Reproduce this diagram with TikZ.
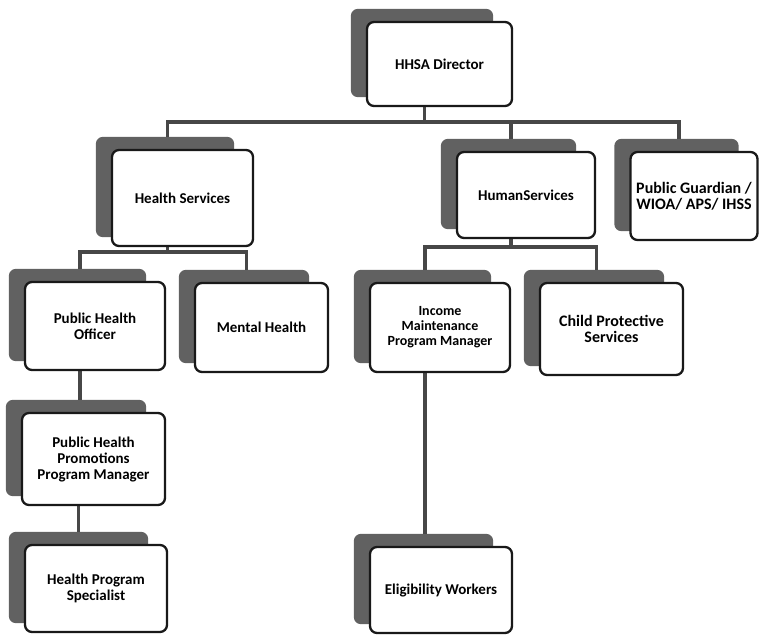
\documentclass[tikz,border=0pt]{standalone}
\usepackage{fontspec}
\setmainfont{Carlito}
\usetikzlibrary{calc,backgrounds}
% grey card lying behind each box, offset up and to the left
\newcommand\cardshadow[1]{%
  \fill[backcard] ($(#1.north west)+(-15,-12)$) rectangle ($(#1.south east)+(-20,-10)$);}
\begin{document}
\begin{tikzpicture}[x=1pt,y=-1pt,
  card/.style={draw=black!90, line width=2.3pt, rounded corners=7pt, fill=white,
    align=center, inner sep=2pt, font=\bfseries\fontsize{15}{16}\selectfont},
  bigtext/.style={font=\bfseries\fontsize{16}{16.5}\selectfont},
  smalltext/.style={font=\bfseries\fontsize{14}{15}\selectfont},
  conn/.style={draw=black!72, line width=3.4pt},
  backcard/.style={fill=black!62, rounded corners=7pt}]
\useasboundingbox (0,0) rectangle (759,635);

% boxes
\node[card, minimum width=145pt, minimum height=84pt] (dir) at (439.5,64) {HHSA Director};
\node[card, minimum width=141pt, minimum height=96pt] (hs)  at (182.5,198) {Health Services};
\node[card, minimum width=138pt, minimum height=86pt] (hum) at (526,195) {HumanServices};
\node[card, bigtext, minimum width=127pt, minimum height=88pt] (pg)  at (694,196) {Public Guardian /\\WIOA/ APS/ IHSS};
\node[card, minimum width=140pt, minimum height=88pt] (pho) at (95,326) {Public Health\\Officer};
\node[card, minimum width=133pt, minimum height=89pt] (mh)  at (261.5,327.5) {Mental Health};
\node[card, smalltext, minimum width=140pt, minimum height=89pt] (ipm) at (440,327.5) {Income\\Maintenance\\Program Manager};
\node[card, bigtext, minimum width=143pt, minimum height=92pt] (cps) at (611.5,329) {Child Protective\\Services};
\node[card, minimum width=143pt, minimum height=92pt] (php) at (93.5,459) {Public Health\\Promotions\\Program Manager};
\node[card, minimum width=142pt, minimum height=87pt] (hps) at (96,588.5) {Health Program\\Specialist};
\node[card, minimum width=142pt, minimum height=86pt] (elig) at (441,590) {Eligibility Workers};

\begin{scope}[on background layer]
  \foreach \n in {dir,hs,hum,pg,pho,mh,ipm,cps,php,hps,elig} {\cardshadow{\n}}

  % attachment points: top of the back card, bottom of the front card
  \foreach \n in {dir,hs,hum,pg,pho,mh,ipm,cps,php,hps,elig} {
    \coordinate (\n T) at ($(\n.north)+(-15,-12)$);
    \coordinate (\n B) at ($(\n.south)+(-15,0)$);
  }
  \coordinate (dirJ) at ($(dir.south)+(-15,15)$);
  \coordinate (hsJ)  at ($(hs.south)+(-15,5)$);
  \coordinate (humJ) at ($(hum.south)+(-15,8)$);

  % director to the three services
  \draw[conn] (dirB) -- (dirJ);
  \draw[conn] (hsT) -- (hsT |- dirJ) -- (pgT |- dirJ) -- (pgT);
  \draw[conn] (humT) -- (humT |- dirJ);

  % health services branch
  \draw[conn] (hsB) -- (hsJ);
  \draw[conn] (phoT) -- (phoT |- hsJ) -- (mhT |- hsJ) -- (mhT);
  \draw[conn] (phoB) -- (phoB |- phpT);
  \draw[conn] (phpB) -- (phpB |- hpsT);

  % human services branch
  \draw[conn] (humB) -- (humJ);
  \draw[conn] (ipmT) -- (ipmT |- humJ) -- (cpsT |- humJ) -- (cpsT);
  \draw[conn] (ipmB) -- (ipmB |- eligT);
\end{scope}
\end{tikzpicture}
\end{document}
